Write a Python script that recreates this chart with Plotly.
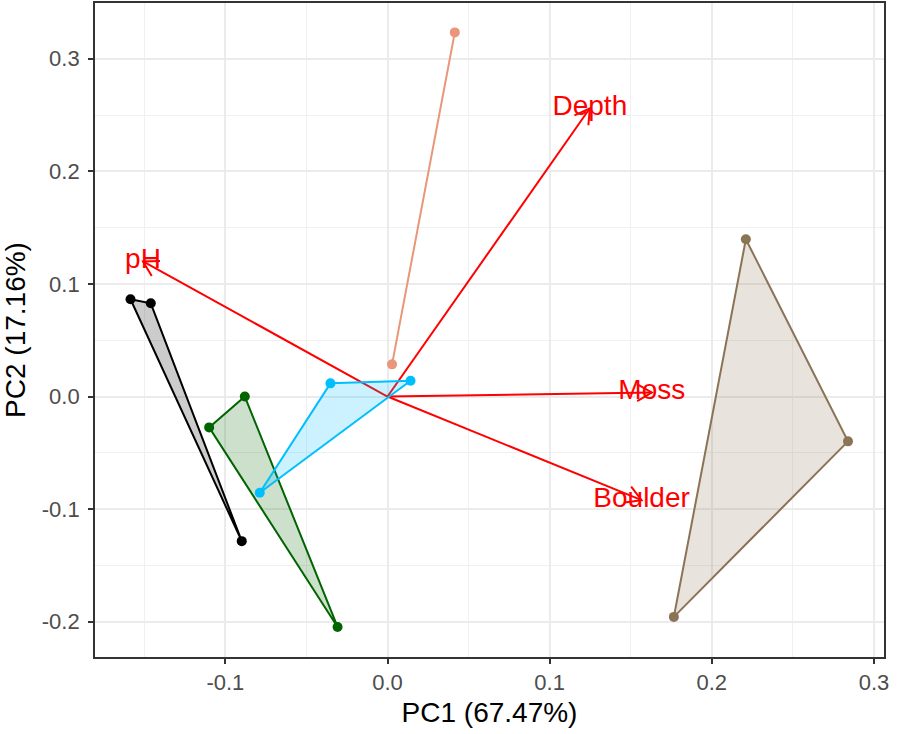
import numpy as np
import plotly.graph_objects as go

# ---- data ----
group_names = ["G1", "G2", "G3", "G4", "G5"]
pc1_g1 = [-0.1585, -0.1460, -0.0899]
pc2_g1 = [0.0864, 0.0828, -0.1284]
pc1_g2 = [-0.0880, -0.1100, -0.0308]
pc2_g2 = [0.0000, -0.0274, -0.2046]
pc1_g3 = [-0.0352, 0.0142, -0.0788]
pc2_g3 = [0.0117, 0.0140, -0.0855]
pc1_g4 = [0.0415, 0.0028]
pc2_g4 = [0.3234, 0.0286]
pc1_g5 = [0.2210, 0.2840, 0.1766]
pc2_g5 = [0.1397, -0.0398, -0.1957]

var_names = ["pH", "Depth", "Moss", "Boulder"]
load_pc1 = [-0.1508, 0.1248, 0.1630, 0.1567]
load_pc2 = [0.1200, 0.2560, 0.0036, -0.0920]

tick_vals_x = [-0.1, 0.0, 0.1, 0.2, 0.3]
tick_text_x = ["-0.1", "0.0", "0.1", "0.2", "0.3"]
tick_vals_y = [-0.2, -0.1, 0.0, 0.1, 0.2, 0.3]
tick_text_y = ["-0.2", "-0.1", "0.0", "0.1", "0.2", "0.3"]

# ---- styling ----
line_cols = ["#000000", "#006400", "#00BFFF", "#E9967A", "#8B7355"]
fill_cols = ["rgba(0,0,0,0.2)", "rgba(0,100,0,0.2)", "rgba(0,191,255,0.2)",
             "rgba(233,150,122,0.2)", "rgba(139,115,85,0.2)"]

W, H = 898, 734
ML, MR, MT, MB = 95, 14, 3, 77
xr = [-0.1804, 0.3062]
yr = [-0.2313, 0.3495]
sx = (W - ML - MR) / (xr[1] - xr[0])
sy = (H - MT - MB) / (yr[1] - yr[0])

fig = go.Figure()

# loading arrows (shafts + open heads)
head_len = 17.0
head_ang = np.deg2rad(30)
for vx, vy in zip(load_pc1, load_pc2):
    fig.add_trace(go.Scatter(x=[0, vx], y=[0, vy], mode="lines",
                             line=dict(color="red", width=2), hoverinfo="skip",
                             showlegend=False))
    th = np.arctan2(vy * sy, vx * sx)
    hx, hy = [], []
    for s in (1, -1):
        a = th + s * head_ang
        hx.append(vx - head_len * np.cos(a) / sx)
        hy.append(vy - head_len * np.sin(a) / sy)
    fig.add_trace(go.Scatter(x=[hx[0], vx, hx[1]], y=[hy[0], vy, hy[1]], mode="lines",
                             line=dict(color="red", width=2), hoverinfo="skip",
                             showlegend=False))

# group hulls and points
groups = [(pc1_g1, pc2_g1), (pc1_g2, pc2_g2), (pc1_g3, pc2_g3),
          (pc1_g4, pc2_g4), (pc1_g5, pc2_g5)]
for i, (gx, gy) in enumerate(groups):
    fig.add_trace(go.Scatter(x=list(gx) + [gx[0]], y=list(gy) + [gy[0]],
                             mode="lines", fill="toself", fillcolor=fill_cols[i],
                             line=dict(color=line_cols[i], width=2),
                             name=group_names[i], showlegend=False))
for i, (gx, gy) in enumerate(groups):
    fig.add_trace(go.Scatter(x=gx, y=gy, mode="markers",
                             marker=dict(color=line_cols[i], size=10),
                             name=group_names[i], showlegend=False))

# variable labels
fig.add_trace(go.Scatter(x=load_pc1, y=load_pc2, mode="text", text=var_names,
                         textposition="middle center",
                         textfont=dict(color="red", size=28, family="Liberation Sans, Arial"),
                         showlegend=False, hoverinfo="skip"))

axis_common = dict(
    showgrid=True, gridcolor="#EBEBEB", gridwidth=1.8,
    minor=dict(showgrid=True, gridcolor="#F0F0F0", gridwidth=1,
               tickmode="linear", tick0=0.05, dtick=0.1),
    zeroline=False, showline=True, mirror=True, linecolor="#333333", linewidth=1.8,
    ticks="outside", ticklen=5, tickwidth=1.8, tickcolor="#333333",
    tickfont=dict(size=22, color="#4D4D4D", family="Liberation Sans, Arial"),
)

fig.update_layout(
    width=W, height=H,
    margin=dict(l=ML, r=MR, t=MT, b=MB),
    plot_bgcolor="white", paper_bgcolor="white",
    showlegend=False,
    xaxis=dict(range=xr, tickvals=tick_vals_x, ticktext=tick_text_x,
               title=dict(text="PC1 (67.47%)", standoff=8,
                          font=dict(size=28, color="black", family="Liberation Sans, Arial")),
               automargin=False, **axis_common),
    yaxis=dict(range=yr, tickvals=tick_vals_y, ticktext=tick_text_y,
               ticklabelstandoff=4,
               title=dict(text="PC2 (17.16%)", standoff=12,
                          font=dict(size=28, color="black", family="Liberation Sans, Arial")),
               automargin=False, **axis_common),
)

fig.write_html("out.html", config={"displayModeBar": False},
               post_script="document.body.style.margin='0px';")
